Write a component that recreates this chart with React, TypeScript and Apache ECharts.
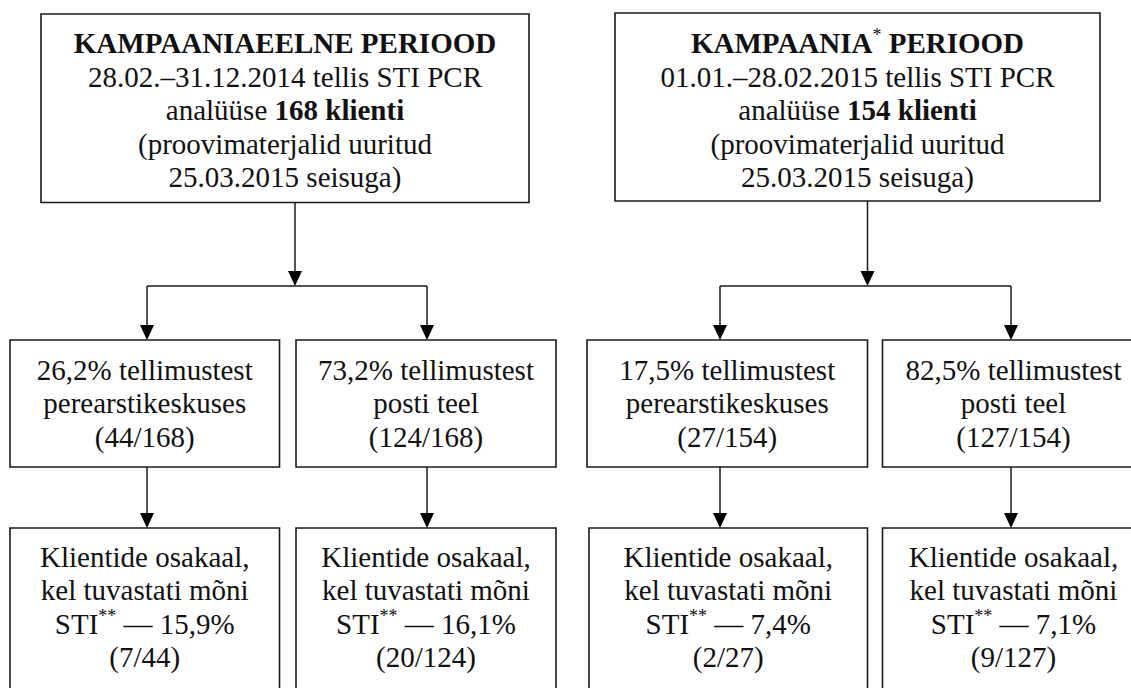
import React, { useEffect, useRef } from "react";
import * as echarts from "echarts";

// ---- Data ----
const periodTitles = ["KAMPAANIAEELNE", "KAMPAANIA"];
const periodMarked = [false, true];
const orderDates = ["28.02.–31.12.2014", "01.01.–28.02.2015"];
const clientTotals = [168, 154];
const checkedDate = "25.03.2015";
const channelNames = ["perearstikeskuses", "posti teel", "perearstikeskuses", "posti teel"];
const channelShares = [26.2, 73.2, 17.5, 82.5];
const channelCounts = [44, 124, 27, 127];
const stiShares = [15.9, 16.1, 7.4, 7.1];
const stiCounts = [7, 20, 2, 9];

// ---- Layout ----
const FONT = "Liberation Serif";
const FS = 29;
const LH = 33.5;
const INK = "#111";
const LINE = "#1a1a1a";

const topBoxes = [
  { x: 41, y: 14, w: 488, h: 188.5 },
  { x: 615, y: 13, w: 485, h: 188 },
];
const topArrowX = [295, 867.5];
const branchY = 286;
const branchX = [
  [147, 427],
  [720, 1011],
];
const midBoxes = [
  { x: 10, w: 269.5 },
  { x: 296, w: 260 },
  { x: 587, w: 280.5 },
  { x: 882.5, w: 262 },
];
const midTop = 340;
const midBottom = 467;
const botBoxes = [
  { x: 10, w: 269.5 },
  { x: 296, w: 260 },
  { x: 589, w: 278.5 },
  { x: 882.5, w: 262 },
];
const botTop = 528;

const fmt = (v: number) => v.toFixed(1).replace(".", ",");

const tok = (size: number, weight: string, lh: number, extra: any = {}) => ({
  fontFamily: FONT,
  fontSize: size,
  fontWeight: weight,
  font: `${weight} ${size}px ${FONT}`,
  lineHeight: lh,
  fill: INK,
  ...extra,
});

const rich = {
  n: tok(FS, "normal", LH),
  b: tok(FS, "bold", LH),
  sup: tok(18, "normal", 17, { verticalAlign: "top" }),
};

function rect(x: number, y: number, w: number, h: number) {
  return {
    type: "rect",
    shape: { x, y, width: w, height: h },
    style: { fill: "#fff", stroke: LINE, lineWidth: 1.6 },
    z: 1,
  };
}
function seg(x1: number, y1: number, x2: number, y2: number) {
  return {
    type: "line",
    shape: { x1, y1, x2, y2 },
    style: { stroke: LINE, lineWidth: 1.5 },
    z: 2,
  };
}
function arrow(x: number, y1: number, tip: number) {
  return [
    seg(x, y1, x, tip - 8),
    {
      type: "polygon",
      shape: { points: [[x - 7, tip - 15], [x + 7, tip - 15], [x, tip]] },
      style: { fill: "#000" },
      z: 3,
    },
  ];
}
function text(cx: number, cy: number, t: string) {
  return {
    type: "text",
    x: cx,
    y: cy,
    z: 4,
    style: {
      text: t,
      align: "center",
      verticalAlign: "middle",
      fontFamily: FONT,
      fontSize: FS,
      font: `normal ${FS}px ${FONT}`,
      lineHeight: LH,
      fill: INK,
      rich,
    },
  };
}

export default function App() {
  const ref = useRef<HTMLDivElement>(null);
  useEffect(() => {
    if (!ref.current) return;
    const chart = echarts.init(ref.current, undefined, { renderer: "svg" });
    const els: any[] = [];

    // top boxes
    topBoxes.forEach((b, i) => {
      els.push(rect(b.x, b.y, b.w, b.h));
      const title =
        `{b|${periodTitles[i]}}` + (periodMarked[i] ? "{sup|*}" : "") + "{b| PERIOOD}";
      const t =
        title +
        `\n{n|${orderDates[i]} tellis STI PCR}` +
        `\n{n|analüüse }{b|${clientTotals[i]} klienti}` +
        `\n{n|(proovimaterjalid uuritud}` +
        `\n{n|${checkedDate} seisuga)}`;
      els.push(text(b.x + b.w / 2, 110, t));
      els.push(...arrow(topArrowX[i], b.y + b.h, branchY));
      els.push(seg(branchX[i][0], branchY, branchX[i][1], branchY));
      els.push(...arrow(branchX[i][0], branchY, midTop));
      els.push(...arrow(branchX[i][1], branchY, midTop));
    });

    // middle boxes
    midBoxes.forEach((b, i) => {
      els.push(rect(b.x, midTop, b.w, midBottom - midTop));
      const t =
        `{n|${fmt(channelShares[i])}% tellimustest}` +
        `\n{n|${channelNames[i]}}` +
        `\n{n|(${channelCounts[i]}/${clientTotals[Math.floor(i / 2)]})}`;
      els.push(text(b.x + b.w / 2, 403, t));
      const ax = branchX[Math.floor(i / 2)][i % 2];
      els.push(...arrow(ax, midBottom, botTop));
    });

    // bottom boxes
    botBoxes.forEach((b, i) => {
      els.push(rect(b.x, botTop, b.w, 180));
      const t =
        `{n|Klientide osakaal,}` +
        `\n{n|kel tuvastati mõni}` +
        `\n{n|STI}{sup|**}{n| — ${fmt(stiShares[i])}%}` +
        `\n{n|(${stiCounts[i]}/${channelCounts[i]})}`;
      els.push(text(b.x + b.w / 2, 607, t));
    });

    chart.setOption({
      animation: false,
      backgroundColor: "#fff",
      graphic: { elements: els },
    });
    return () => chart.dispose();
  }, []);
  return (
    <div
      ref={ref}
      style={{ position: "fixed", left: 0, top: 0, width: 1131, height: 688, background: "#fff" }}
    />
  );
}
